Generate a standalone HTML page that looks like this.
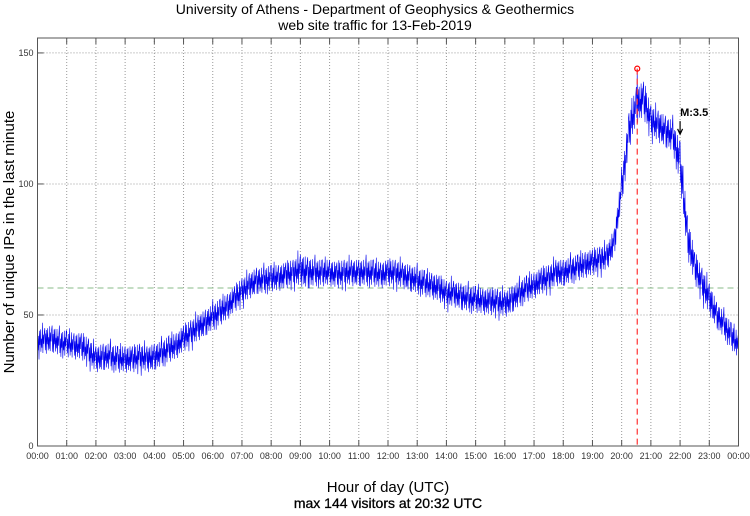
<!DOCTYPE html>
<html><head><meta charset="utf-8"><style>
body{margin:0;background:#fff;font-family:"Liberation Sans",sans-serif}
svg text{font-family:"Liberation Sans",sans-serif}
</style></head><body>
<svg id="chart" width="750" height="511" xmlns="http://www.w3.org/2000/svg">
<text x="375" y="14" font-size="14" text-anchor="middle">University of Athens - Department of Geophysics &amp; Geothermics</text>
<text x="375" y="30" font-size="14" text-anchor="middle">web site traffic for 13-Feb-2019</text>
<text transform="translate(14,242) rotate(-90)" font-size="15" text-anchor="middle">Number of unique IPs in the last minute</text>
<text x="388" y="492" font-size="15" text-anchor="middle">Hour of day (UTC)</text>
<text x="388" y="508" font-size="14" text-anchor="middle" stroke="#000" stroke-width="0.3">max 144 visitors at 20:32 UTC</text>
<g id="grid"></g><g id="series"></g><g id="axes"></g>
</svg>
<script>
const hourLabels=["00:00","01:00","02:00","03:00","04:00","05:00","06:00","07:00","08:00","09:00","10:00","11:00","12:00","13:00","14:00","15:00","16:00","17:00","18:00","19:00","20:00","21:00","22:00","23:00","00:00"];
const yTicks=[0,50,100,150];
// mid value per 15 minutes
const midValues=[40,40,41,39,39,38,38,36,33,34,34,33,33,33,34,33,34,35,37,38,41,43,45,47,49,51,53,56,59,61,63,63,64,64,65,66,67,66,66,66,66,65,66,66,66,66,66,65,66,66,65,64,63,62,61,60,58,58,57,56,56,55,55,55,54,56,58,60,61,63,64,66,66,67,68,69,70,71,72,78,98,120,130,132,124,122,120,118,108,80,68,62,56,50,46,42,38];
const spreadValues=[5,5,5,5,5,5,5,5,5,5,5,5,5,5,5,5,5,5,5,5,5,5,5,5,5,5,5,5,5,5,5,5,5,5,5,5,6,6,5,5,5,5,5,5,5,5,5,5,5,5,5,5,5,5,5,5,5,5,5,5,5,5,5,5,5,5,5,5,5,5,5,5,5,5,5,5,5,5,5,5,6,7,7,7,6,6,6,6,8,8,6,6,6,5,5,5,5];
const peakValue=144, peakMinute=20*60+32, refLine=60.3, quakeMinute=22*60, quakeLabel="M:3.5";
const X0=37.5,X1=738.5,Y0=446,Y1=38,VMAX=155.7;
const xs=m=>X0+(X1-X0)*m/1440, ys=v=>Y0-(Y0-Y1)*v/VMAX;
const NS="http://www.w3.org/2000/svg";
function mk(p,t,a){const e=document.createElementNS(NS,t);for(const k in a)e.setAttribute(k,a[k]);p.appendChild(e);return e;}
const grid=document.getElementById('grid'),axes=document.getElementById('axes'),ser=document.getElementById('series');
hourLabels.forEach((l,i)=>{const x=xs(i*60);
 if(i>0&&i<24){const g=mk(grid,'line',{x1:x,x2:x,y1:Y1,y2:Y0,stroke:'#999','stroke-dasharray':'1,2','stroke-width':1});
 }
 const t1=mk(axes,'line',{x1:x,x2:x,y1:Y0,y2:Y0-6,stroke:'#555'});
 const t2=mk(axes,'line',{x1:x,x2:x,y1:Y1,y2:Y1+6,stroke:'#555'});
 const tx=mk(axes,'text',{x:x,y:459,'font-size':9,'text-anchor':'middle',fill:'#333'});tx.textContent=l;
 });
yTicks.forEach(v=>{const y=ys(v);
 if(v>0){const g=mk(grid,'line',{x1:X0,x2:X1,y1:y,y2:y,stroke:'#999','stroke-dasharray':'1,2'});}
 const t=mk(axes,'line',{x1:X0,x2:X0+6,y1:y,y2:y,stroke:'#555'});
 const tx=mk(axes,'text',{x:X0-4,y:y+3,'font-size':9,'text-anchor':'end',fill:'#333'});tx.textContent=v;
 });
const fr=mk(axes,'rect',{x:X0,y:Y1,width:X1-X0,height:Y0-Y1,fill:'none',stroke:'#555'});
const rl=mk(grid,'line',{x1:X0,x2:X1,y1:ys(refLine),y2:ys(refLine),stroke:'#8b8','stroke-dasharray':'6,4'});
const pat=[1,-0.7,0.4,-1,0.8,-0.3,0.9,-0.8,0.2,-0.5,1,-0.9,0.5,-0.2,0.7];
let d='';
for(let m=0;m<=1440;m++){const i=Math.min(Math.floor(m/15),midValues.length-2),f=(m-i*15)/15;
 const mid=midValues[i]*(1-f)+midValues[i+1]*f, sp=spreadValues[i]*(1-f)+spreadValues[i+1]*f;
 let v=mid+sp*pat[m%15]*(m%7===3?1.4:1); if(m===peakMinute)v=peakValue;
 d+=(m?'L':'M')+xs(m).toFixed(1)+','+ys(v).toFixed(1);}
const p=mk(ser,'path',{d:d,fill:'none',stroke:'#0000ee','stroke-width':0.6});
const vl=mk(ser,'line',{x1:xs(peakMinute),x2:xs(peakMinute),y1:ys(peakValue),y2:Y0,stroke:'#f33','stroke-dasharray':'6,4','stroke-width':1.2});
const c=mk(ser,'circle',{cx:xs(peakMinute),cy:ys(peakValue),r:2.5,fill:'none',stroke:'#f00','stroke-width':1.2});
const ax=xs(quakeMinute);
const ar=mk(ser,'path',{d:`M${ax},${ys(124)}L${ax},${ys(119)}M${ax-2.5},${ys(121)}L${ax},${ys(119)}L${ax+2.5},${ys(121)}`,stroke:'#000',fill:'none','stroke-width':1.2});
const qt=mk(ser,'text',{x:ax,y:ys(126),'font-size':11,'font-weight':'bold'});qt.textContent=quakeLabel;
</script>
</body></html>
